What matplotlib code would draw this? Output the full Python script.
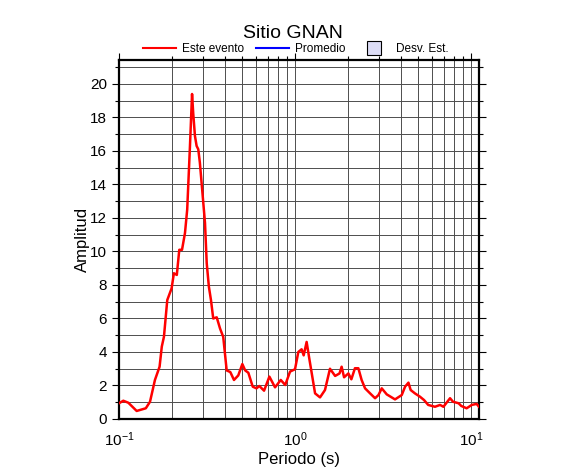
import numpy as np
import matplotlib.pyplot as plt
from matplotlib.ticker import LogLocator, MultipleLocator
from matplotlib.lines import Line2D

# spectrum (period in s, amplitude)
periodo = [0.100, 0.1058, 0.113, 0.126, 0.142, 0.150, 0.160, 0.170, 0.175, 0.180,
           0.188, 0.199, 0.205, 0.213, 0.220, 0.228, 0.237, 0.244, 0.253, 0.260,
           0.264, 0.270, 0.276, 0.282, 0.288, 0.299, 0.308, 0.315, 0.324, 0.333,
           0.343, 0.359, 0.375, 0.391, 0.409, 0.429, 0.450, 0.476, 0.502, 0.521,
           0.543, 0.575, 0.604, 0.627, 0.667, 0.715, 0.770, 0.830, 0.880, 0.937,
           1.000, 1.044, 1.090, 1.120, 1.164, 1.210, 1.245, 1.300, 1.387, 1.480,
           1.580, 1.690, 1.790, 1.840, 1.900, 2.010, 2.090, 2.190, 2.290, 2.390,
           2.500, 2.670, 2.850, 2.980, 3.110, 3.320, 3.700, 4.040, 4.220, 4.410,
           4.540, 4.800, 5.130, 5.410, 5.710, 6.240, 6.670, 6.970, 7.600, 7.900,
           8.500, 8.800, 9.440, 10.10, 10.76, 11.10]
amplitud = [0.94, 1.09, 0.97, 0.48, 0.64, 1.03, 2.33, 3.12, 4.32, 4.91,
            7.10, 7.80, 8.70, 8.60, 10.1, 10.1, 11.1, 12.5, 16.3, 19.4,
            18.25, 16.9, 16.3, 16.1, 15.3, 13.3, 11.7, 9.3, 7.9, 7.1,
            6.0, 6.07, 5.4, 4.9, 2.9, 2.8, 2.33, 2.6, 3.28, 2.9,
            2.76, 1.93, 1.83, 1.97, 1.69, 2.53, 1.89, 2.33, 2.03, 2.83,
            2.97, 4.0, 4.16, 3.8, 4.6, 3.5, 2.72, 1.53, 1.29, 1.73,
            3.0, 2.57, 2.72, 3.12, 2.49, 2.72, 2.37, 3.03, 3.03, 2.33,
            1.83, 1.53, 1.24, 1.43, 1.83, 1.47, 1.17, 1.43, 1.93, 2.17,
            1.73, 1.53, 1.33, 1.13, 0.84, 0.73, 0.84, 0.73, 1.24, 1.03,
            0.94, 0.78, 0.64, 0.84, 0.90, 0.73]

plt.rcParams["font.family"] = ["Liberation Sans", "DejaVu Sans"]

fig = plt.figure(figsize=(5.86, 4.75), dpi=100)
ax = fig.add_axes([0.2031, 0.1179, 0.6143, 0.7558])

ax.plot(periodo, amplitud, color="#ff0000", lw=1.8, zorder=3)

ax.set_xscale("log")
ax.set_xlim(0.1, 11.1)
ax.set_ylim(0, 21.43)
ax.yaxis.set_major_locator(MultipleLocator(2))
ax.yaxis.set_minor_locator(MultipleLocator(1))
ax.xaxis.set_major_locator(LogLocator(base=10))
ax.xaxis.set_minor_locator(LogLocator(base=10, subs=np.arange(2, 10)))

ax.grid(True, which="both", color="0.3", lw=0.7)
for s in ax.spines.values():
    s.set_linewidth(1.6)

ax.tick_params(which="both", direction="out", left=True, right=True, top=True,
               bottom=False, labelsize=11, width=0.8)
ax.tick_params(which="major", length=5)
ax.tick_params(which="minor", length=3)

ax.set_xlabel("Periodo (s)", fontsize=12, labelpad=2)
ax.set_ylabel("Amplitud", fontsize=12, labelpad=0.5)

fig.text(0.5, 0.929, "Sitio GNAN", ha="center", va="center", fontsize=14)

handles = [Line2D([], [], color="red", lw=1.5),
           Line2D([], [], color="blue", lw=1.5),
           Line2D([], [], ls="none", marker="s", markersize=10,
                  markerfacecolor="#dcdcf5", markeredgecolor="black",
                  markeredgewidth=0.8)]
fig.legend(handles, ["Este evento", "Promedio", "Desv. Est."], loc="center",
           bbox_to_anchor=(0.505, 0.896), ncol=3, frameon=False, fontsize=8.5,
           handlelength=2.8, columnspacing=1.0, handletextpad=0.5,
           borderpad=0.1)

fig.savefig("out.png", dpi=100)
plt.close()
